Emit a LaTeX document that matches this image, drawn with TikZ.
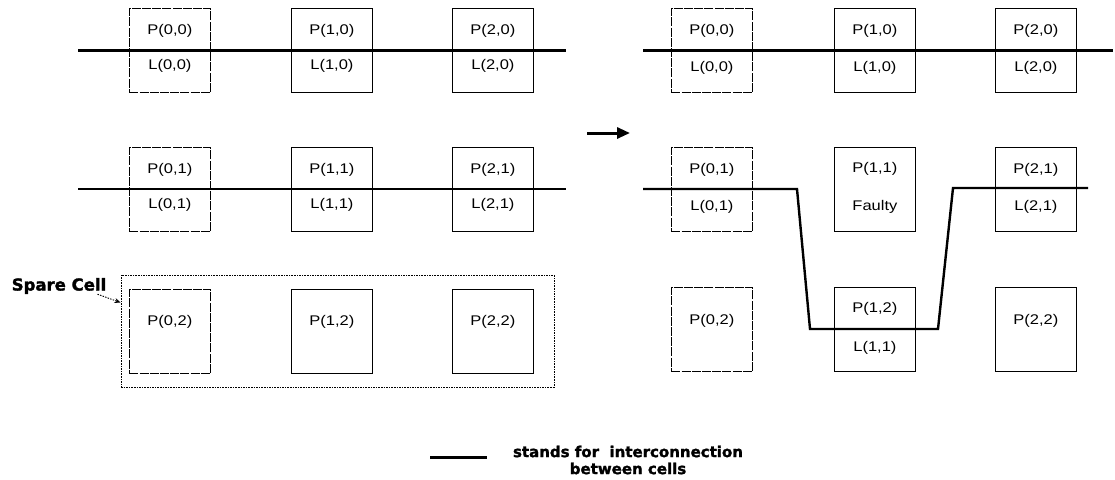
\documentclass[tikz,border=0pt]{standalone}
\usepackage{fontspec}
\setmainfont{Liberation Sans}
\newfontfamily\cellfont[FakeStretch=1.18]{Liberation Sans}
\newfontfamily\heavyfont[FakeBold=1.6]{DejaVu Sans Bold}
\usetikzlibrary{arrows.meta,calc}

\tikzset{
  cell/.style={draw, line width=0.8pt, minimum width=81pt, minimum height=84pt,
               inner sep=0pt, anchor=north west},
  faint/.style={dash pattern=on 9pt off 1.2pt},
  lab/.style={font=\cellfont\fontsize{14}{16}\selectfont, inner sep=0pt},
  heavy/.style={font=\heavyfont\fontsize{15}{17}\selectfont, inner sep=0pt},
  wire/.style={line width=2.4pt, line join=miter},
  thickwire/.style={line width=3pt},
  sparebox/.style={draw, line width=0.9pt, dash pattern=on 1.6pt off 1pt,
                   minimum width=433pt, minimum height=112pt, inner sep=0pt},
}

\begin{document}
\begin{tikzpicture}[x=1pt, y=-1pt]
\useasboundingbox (0,0) rectangle (1115,479);

% ---------------- left panel: original array ----------------
\node[cell, faint] (a00) at (129,8) {};
\node[cell] (a10) at (291,8) {};
\node[cell] (a20) at (452,8) {};
\node[cell, faint] (a01) at (129,147) {};
\node[cell] (a11) at (291,147) {};
\node[cell] (a21) at (452,147) {};
\node[cell, faint] (a02) at (129,289) {};
\node[cell] (a12) at (291,289) {};
\node[cell] (a22) at (452,289) {};

\foreach \c/\i/\j in {a00/0/0, a10/1/0, a20/2/0, a01/0/1, a11/1/1, a21/2/1} {
  \node[lab] (\c p) at ($(\c.center)+(0,-20)$) {P(\i,\j)};
  \node[lab] (\c l) at ($(\c.center)+(0,15)$) {L(\i,\j)};
}
\foreach \c/\i in {a02/0, a12/1, a22/2} {
  \node[lab] (\c p) at ($(\c.center)+(0,-10)$) {P(\i,2)};
}

% interconnections of the left panel
\coordinate (la0w) at (78,50);
\coordinate (la0e) at (566,50);
\coordinate (la1w) at (78,189);
\coordinate (la1e) at (566,189);
\draw[thickwire] (la0w) -- (la0e);
\draw[wire] (la1w) -- (la1e);

% spare row
\node[sparebox] (spare) at (337.5,331) {};
\node[heavy, font=\heavyfont\fontsize{16.5}{18}\selectfont] (sparelab) at (59,286) {Spare Cell};
\draw[line width=0.9pt, dash pattern=on 1.5pt off 1.2pt, -{Stealth[length=6pt,width=5pt]}]
  ($(sparelab.south east)+(-9,0)$) -- ($(spare.north west)+(0,28)$);

% ---------------- transition arrow ----------------
\coordinate (tw) at (587,133);
\coordinate (te) at (630,133);
\draw[line width=3pt, -{Triangle[length=13pt,width=11pt]}] (tw) -- (te);

% ---------------- right panel: reconfigured array ----------------
\node[cell, faint] (b00) at (671,8) {};
\node[cell] (b10) at (834,8) {};
\node[cell] (b20) at (995,8) {};
\node[cell, faint] (b01) at (671,147) {};
\node[cell] (b11) at (834,147) {};
\node[cell] (b21) at (995,147) {};
\node[cell, faint] (b02) at (671,287) {};
\node[cell] (b12) at (834,287) {};
\node[cell] (b22) at (995,287) {};

\foreach \c/\i/\j in {b00/0/0, b10/1/0, b20/2/0, b01/0/1, b21/2/1} {
  \node[lab] (\c p) at ($(\c.center)+(0,-20)$) {P(\i,\j)};
  \node[lab] (\c l) at ($(\c.center)+(0,17)$) {L(\i,\j)};
}
\node[lab] (b11p) at ($(b11.center)+(0,-21)$) {P(1,1)};
\node[lab] (b11f) at ($(b11.center)+(0,17)$) {Faulty};
\node[lab] (b12p) at ($(b12.center)+(0,-21)$) {P(1,2)};
\node[lab] (b12l) at ($(b12.center)+(0,18)$) {L(1,1)};
\node[lab] (b02p) at ($(b02.center)+(0,-9)$) {P(0,2)};
\node[lab] (b22p) at ($(b22.center)+(0,-9)$) {P(2,2)};

% interconnections of the right panel, row 1 rerouted through the spare cell
\coordinate (lb0w) at (643,50);
\coordinate (lb0e) at (1113,50);
\coordinate (lb1w) at (643,189);
\coordinate (lb1a) at (797,189);
\coordinate (lb1b) at (810,329);
\coordinate (lb1c) at (938,329);
\coordinate (lb1d) at (953,188);
\coordinate (lb1e) at (1088,188);
\draw[thickwire] (lb0w) -- (lb0e);
\draw[wire] (lb1w) -- (lb1a) -- (lb1b) -- (lb1c) -- (lb1d) -- (lb1e);

% ---------------- legend ----------------
\coordinate (kw) at (430,457);
\coordinate (ke) at (487,457);
\draw[thickwire] (kw) -- (ke);
\node[heavy, align=center] (keytext) at (628,460) {stands for\ \ interconnection\\between cells};
\end{tikzpicture}
\end{document}
